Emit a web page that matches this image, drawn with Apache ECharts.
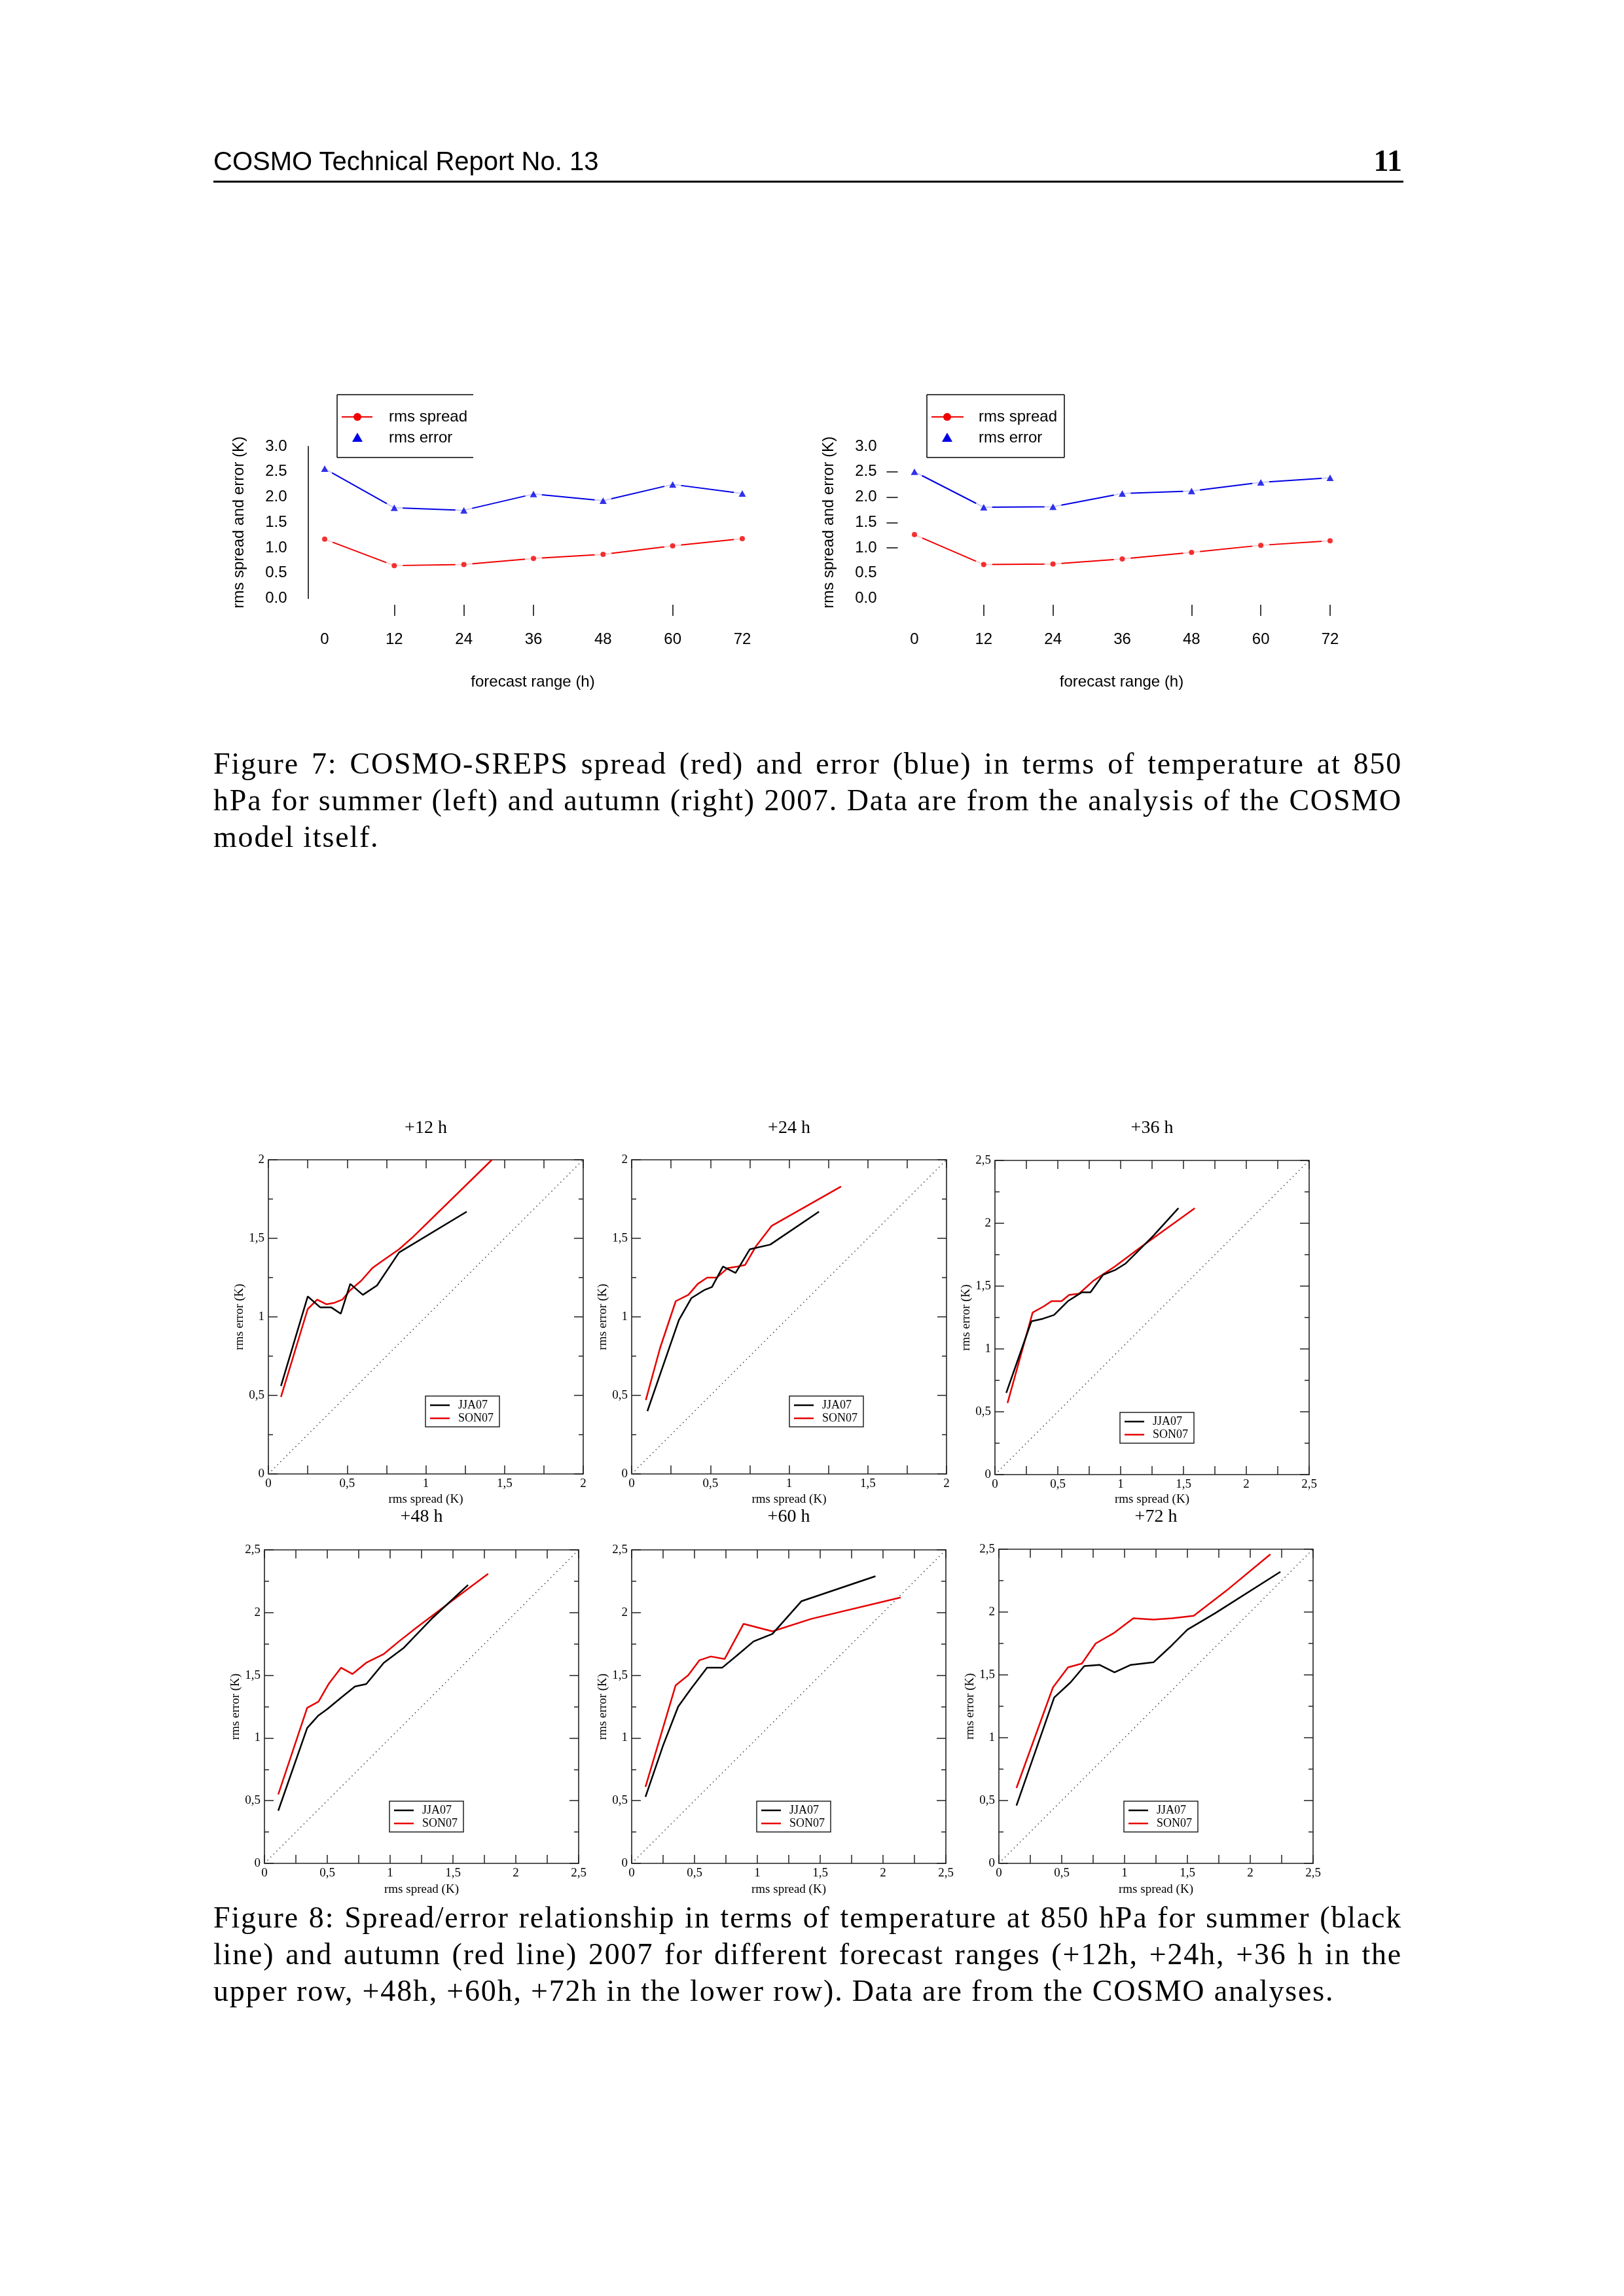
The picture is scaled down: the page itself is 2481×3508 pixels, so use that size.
<!DOCTYPE html>
<html>
<head>
<meta charset="utf-8">
<script src="https://cdn.jsdelivr.net/npm/echarts@6/dist/echarts.min.js"></script>
<style>
html,body{margin:0;padding:0;background:#fff;}
#page{position:relative;width:2481px;height:3508px;background:#fff;overflow:hidden;}
#chart{position:absolute;left:0;top:0;width:2481px;height:3508px;}
.txt{position:absolute;white-space:nowrap;color:#000;}
.cap{position:absolute;left:326px;font-family:'Liberation Serif','Times New Roman',serif;font-size:46px;line-height:56px;letter-spacing:1.8px;white-space:nowrap;color:#000;}
</style>
</head>
<body>
<div id="page">
<div id="chart"></div>
<div class="txt" style="left:326px;top:222px;font-family:'Liberation Sans',Arial,sans-serif;font-size:40px;line-height:48px;">COSMO Technical Report No. 13</div>
<div class="txt" style="right:339px;top:222px;font-family:'Liberation Serif',serif;font-weight:bold;font-size:46px;line-height:48px;">11</div>
<div style="position:absolute;left:326px;top:276px;width:1818px;height:3px;background:#000;"></div>

<div class="cap full" style="top:1139px;">Figure 7: COSMO-SREPS spread (red) and error (blue) in terms of temperature at 850</div>
<div class="cap full" style="top:1195px;">hPa for summer (left) and autumn (right) 2007. Data are from the analysis of the COSMO</div>
<div class="cap" style="top:1251px;">model itself.</div>

<div class="cap full" style="top:2902px;">Figure 8: Spread/error relationship in terms of temperature at 850 hPa for summer (black</div>
<div class="cap full" style="top:2958px;">line) and autumn (red line) 2007 for different forecast ranges (+12h, +24h, +36 h in the</div>
<div class="cap" style="top:3014px;">upper row, +48h, +60h, +72h in the lower row). Data are from the COSMO analyses.</div>
</div>
<script>
// ---------------- Figure 7 data ----------------
const hours = [0, 12, 24, 36, 48, 60, 72];
const spreadSummer = [1.17, 0.65, 0.67, 0.79, 0.87, 1.04, 1.18];
const errorSummer  = [2.56, 1.79, 1.74, 2.06, 1.93, 2.25, 2.07];
const spreadAutumn = [1.26, 0.67, 0.68, 0.78, 0.91, 1.05, 1.14];
const errorAutumn  = [2.50, 1.80, 1.81, 2.07, 2.12, 2.29, 2.38];
const fig7XTicksLeft  = [12, 24, 36, 60];
const fig7XTicksRight = [12, 24, 48, 60, 72];
const fig7YTicksRight = [1.0, 1.5, 2.0, 2.5];

// ---------------- Figure 8 data (rms spread x, rms error y) ----------------
const p12JJAx = [0.08,0.25,0.33,0.40,0.46,0.52,0.60,0.69,0.83,1.26];
const p12JJAy = [0.56,1.13,1.06,1.06,1.02,1.21,1.14,1.20,1.41,1.67];
const p12SONx = [0.08,0.25,0.31,0.37,0.42,0.47,0.52,0.59,0.66,0.73,0.83,0.92,1.42];
const p12SONy = [0.49,1.05,1.11,1.08,1.09,1.11,1.17,1.23,1.31,1.36,1.43,1.51,2.00];

const p24JJAx = [0.10,0.20,0.30,0.38,0.46,0.51,0.58,0.66,0.75,0.88,1.19];
const p24JJAy = [0.40,0.69,0.98,1.12,1.17,1.19,1.32,1.28,1.43,1.46,1.67];
const p24SONx = [0.09,0.18,0.28,0.36,0.42,0.48,0.54,0.61,0.67,0.72,0.79,0.89,1.33];
const p24SONy = [0.47,0.80,1.10,1.14,1.21,1.25,1.25,1.31,1.32,1.33,1.45,1.58,1.83];

const p36JJAx = [0.09,0.29,0.38,0.47,0.58,0.69,0.76,0.86,0.96,1.04,1.12,1.26,1.46];
const p36JJAy = [0.65,1.22,1.24,1.27,1.38,1.45,1.45,1.59,1.63,1.68,1.76,1.90,2.12];
const p36SONx = [0.10,0.30,0.39,0.45,0.53,0.59,0.67,0.78,0.96,1.16,1.59];
const p36SONy = [0.57,1.29,1.34,1.38,1.38,1.43,1.44,1.54,1.66,1.81,2.12];

const p48JJAx = [0.11,0.34,0.43,0.50,0.62,0.72,0.81,0.95,1.11,1.34,1.62];
const p48JJAy = [0.42,1.08,1.18,1.23,1.33,1.41,1.43,1.60,1.72,1.96,2.22];
const p48SONx = [0.11,0.34,0.43,0.51,0.61,0.70,0.81,0.95,1.07,1.21,1.50,1.78];
const p48SONy = [0.55,1.24,1.29,1.43,1.56,1.51,1.60,1.67,1.77,1.88,2.10,2.31];

const p60JJAx = [0.11,0.25,0.37,0.47,0.60,0.72,0.84,0.97,1.12,1.35,1.94];
const p60JJAy = [0.53,0.94,1.25,1.39,1.56,1.56,1.66,1.77,1.83,2.09,2.29];
const p60SONx = [0.11,0.35,0.45,0.54,0.63,0.74,0.89,1.12,1.43,2.14];
const p60SONy = [0.61,1.42,1.50,1.62,1.65,1.63,1.91,1.85,1.95,2.12];

const p72JJAx = [0.14,0.44,0.57,0.68,0.80,0.92,1.05,1.23,1.36,1.50,1.72,2.24];
const p72JJAy = [0.46,1.32,1.44,1.57,1.58,1.52,1.58,1.60,1.72,1.86,1.99,2.32];
const p72SONx = [0.14,0.43,0.55,0.66,0.77,0.91,1.07,1.23,1.38,1.55,1.81,2.16];
const p72SONy = [0.60,1.40,1.56,1.59,1.75,1.83,1.95,1.94,1.95,1.97,2.17,2.46];

const panelTitles = ['+12 h', '+24 h', '+36 h', '+48 h', '+60 h', '+72 h'];
const panelMax = [2, 2, 2.5, 2.5, 2.5, 2.5];
const seriesNames = ['JJA07', 'SON07'];

// ---------------- build ----------------
const SANS = "'Liberation Sans', Arial, sans-serif";
const SERIF = "'Liberation Serif', 'Times New Roman', serif";
const zip = (a, b) => a.map((v, i) => [v, b[i]]);
const comma = v => String(Math.round(v * 100) / 100).replace('.', ',');

const grids = [], xAxes = [], yAxes = [], series = [], graphics = [];

function gtext(text, x, y, font, opts) {
  opts = opts || {};
  graphics.push({
    type: 'text', x: x, y: y, rotation: opts.rotation || 0, z: 100, silent: true,
    style: { text: text, font: font, fill: '#000',
      align: opts.align || 'center', verticalAlign: 'middle',
      textAlign: opts.align || 'center', textVerticalAlign: 'middle' }
  });
}
function gline(x1, y1, x2, y2, color, w) {
  graphics.push({ type: 'line', z: 100, silent: true, shape: { x1, y1, x2, y2 },
    style: { stroke: color, lineWidth: w } });
}

// Figure 7 panels
const fig7 = [
  { grid: { left: 496, top: 682, width: 638, height: 232.5 }, xTicks: fig7XTicksLeft, yLine: true, yTicks: [],
    spread: spreadSummer, error: errorSummer, legend: { l: 515, r: 723, t: 603, b: 699, open: true, lx1: 522, lx2: 569, mx: 546, tx: 594 } },
  { grid: { left: 1397, top: 682, width: 635, height: 232.5 }, xTicks: fig7XTicksRight, yLine: false, yTicks: fig7YTicksRight,
    spread: spreadAutumn, error: errorAutumn, legend: { l: 1416, r: 1626, t: 603, b: 699, open: false, lx1: 1423, lx2: 1472, mx: 1447, tx: 1495 } }
];
const RED7 = '#f00000', BLUE7 = '#0000e6';
fig7.forEach((c, k) => {
  grids.push(c.grid);
  xAxes.push({ gridIndex: k, type: 'value', min: 0, max: 72, interval: 12, offset: 9.5,
    axisLine: { show: false, onZero: false }, splitLine: { show: false },
    axisTick: { show: true, length: 17, customValues: c.xTicks, lineStyle: { color: '#000', width: 1.5 } },
    axisLabel: { margin: 41, color: '#000', fontSize: 24, fontFamily: SANS } });
  yAxes.push({ gridIndex: k, type: 'value', min: 0, max: 3, interval: 0.5, offset: 25.5,
    axisLine: { show: c.yLine, onZero: false, lineStyle: { color: '#000', width: 1.5 } },
    axisTick: { show: c.yTicks.length > 0, length: 17, customValues: c.yTicks, lineStyle: { color: '#000', width: 1.5 } },
    splitLine: { show: false },
    axisLabel: { margin: 32, color: '#000', fontSize: 24, fontFamily: SANS, formatter: v => v.toFixed(1) } });
  const sets = [
    { name: 'rms spread', vals: c.spread, color: RED7, symbol: 'circle', size: 8 },
    { name: 'rms error', vals: c.error, color: BLUE7, symbol: 'triangle', size: [11, 10] }
  ];
  sets.forEach(s => {
    const d = zip(hours, s.vals);
    series.push({ type: 'line', name: s.name, xAxisIndex: k, yAxisIndex: k, data: d, symbol: 'none',
      lineStyle: { color: s.color, width: 2 }, z: 2, silent: true });
    series.push({ type: 'scatter', xAxisIndex: k, yAxisIndex: k, data: d, symbol: 'circle', symbolSize: 26,
      itemStyle: { color: '#fff' }, z: 3, silent: true });
    series.push({ type: 'scatter', name: s.name, xAxisIndex: k, yAxisIndex: k, data: d, symbol: s.symbol, symbolSize: s.size,
      itemStyle: { color: s.color }, z: 4, silent: true });
  });
  // axis titles
  const g = c.grid;
  gtext('forecast range (h)', g.left + g.width / 2 - 1, 1042, '24px ' + SANS);
  gtext('rms spread and error (K)', g.left - 130.5, g.top + g.height / 2, '24px ' + SANS, { rotation: Math.PI / 2 });
  // legend
  const L = c.legend;
  gline(L.l, L.t, L.r, L.t, '#000', 1.5);
  gline(L.l, L.b, L.r, L.b, '#000', 1.5);
  gline(L.l, L.t, L.l, L.b, '#000', 1.5);
  if (!L.open) gline(L.r, L.t, L.r, L.b, '#000', 1.5);
  const r1 = 637, r2 = 669;
  gline(L.lx1, r1, L.lx2, r1, RED7, 2);
  graphics.push({ type: 'circle', z: 101, silent: true, shape: { cx: L.mx, cy: r1, r: 6 }, style: { fill: RED7 } });
  graphics.push({ type: 'polygon', z: 101, silent: true, shape: { points: [[L.mx, r2 - 8], [L.mx - 8, r2 + 6], [L.mx + 8, r2 + 6]] }, style: { fill: BLUE7 } });
  gtext('rms spread', L.tx, r1, '24px ' + SANS, { align: 'left' });
  gtext('rms error', L.tx, r2, '24px ' + SANS, { align: 'left' });
});

// Figure 8 panels
const panelGrids = [
  { left: 410, top: 1772, width: 481, height: 480 },
  { left: 965, top: 1772, width: 481, height: 480 },
  { left: 1520, top: 1773, width: 480, height: 480 },
  { left: 404, top: 2368, width: 480, height: 479 },
  { left: 965, top: 2368, width: 480, height: 479 },
  { left: 1526, top: 2367, width: 480, height: 480 }
];
const legendBoxes = [[650, 2133], [1206, 2133], [1711, 2158], [595, 2752], [1156, 2752], [1717, 2752]];
const titleY = [1724, 1724, 1724, 2318, 2318, 2318];
const xTitleY = [2291, 2291, 2291, 2887, 2887, 2887];
const panelData = [
  [p12JJAx, p12JJAy, p12SONx, p12SONy],
  [p24JJAx, p24JJAy, p24SONx, p24SONy],
  [p36JJAx, p36JJAy, p36SONx, p36SONy],
  [p48JJAx, p48JJAy, p48SONx, p48SONy],
  [p60JJAx, p60JJAy, p60SONx, p60SONy],
  [p72JJAx, p72JJAy, p72SONx, p72SONy]
];
const RED8 = '#e60000', FRAME = '#222';
panelGrids.forEach((g, i) => {
  const gi = 2 + i, ax = 2 + 2 * i, M = panelMax[i];
  grids.push(g);
  const line = { show: true, onZero: false, lineStyle: { color: FRAME, width: 1.6 } };
  const tick = len => ({ show: true, inside: true, length: len, lineStyle: { color: FRAME, width: 1.5 } });
  const lab = { margin: 6, color: '#000', fontSize: 19, fontFamily: SERIF };
  const xfmt = v => (Math.abs(v * 2 - Math.round(v * 2)) < 1e-6 ? comma(v) : '');
  xAxes.push({ gridIndex: gi, type: 'value', position: 'bottom', min: 0, max: M, interval: 0.25,
    axisLine: line, axisTick: tick(13), splitLine: { show: false }, axisLabel: Object.assign({ formatter: xfmt }, lab) });
  xAxes.push({ gridIndex: gi, type: 'value', position: 'top', min: 0, max: M, interval: 0.25,
    axisLine: line, axisTick: tick(13), splitLine: { show: false }, axisLabel: { show: false } });
  const minor = { show: true, splitNumber: 2, length: 7, lineStyle: { color: FRAME, width: 1.5 } };
  yAxes.push({ gridIndex: gi, type: 'value', position: 'left', min: 0, max: M, interval: 0.5,
    axisLine: line, axisTick: tick(14), minorTick: minor, splitLine: { show: false }, minorSplitLine: { show: false },
    axisLabel: Object.assign({ formatter: comma }, lab) });
  yAxes.push({ gridIndex: gi, type: 'value', position: 'right', min: 0, max: M, interval: 0.5,
    axisLine: line, axisTick: tick(14), minorTick: minor, splitLine: { show: false }, minorSplitLine: { show: false },
    axisLabel: { show: false } });
  const d = panelData[i];
  series.push({ type: 'line', xAxisIndex: ax, yAxisIndex: ax, data: [[0, 0], [M, M]], symbol: 'none', silent: true,
    lineStyle: { color: '#444', width: 1.5, type: [1.5, 5] }, z: 1 });
  series.push({ type: 'line', name: seriesNames[1], xAxisIndex: ax, yAxisIndex: ax, data: zip(d[2], d[3]), symbol: 'none', silent: true,
    lineStyle: { color: RED8, width: 2.5 }, z: 2 });
  series.push({ type: 'line', name: seriesNames[0], xAxisIndex: ax, yAxisIndex: ax, data: zip(d[0], d[1]), symbol: 'none', silent: true,
    lineStyle: { color: '#000', width: 2.5 }, z: 3 });
  // titles
  gtext(panelTitles[i], g.left + g.width / 2, titleY[i], '28px ' + SERIF);
  gtext('rms spread (K)', g.left + g.width / 2, xTitleY[i], '19px ' + SERIF);
  gtext('rms error (K)', g.left - 44, g.top + g.height / 2, '19px ' + SERIF, { rotation: Math.PI / 2 });
  // legend
  const [lx, ly] = legendBoxes[i];
  graphics.push({ type: 'rect', z: 100, silent: true, shape: { x: lx, y: ly, width: 113, height: 47 },
    style: { fill: '#fff', stroke: FRAME, lineWidth: 1.5 } });
  gline(lx + 7, ly + 14, lx + 37, ly + 14, '#000', 2.5);
  gline(lx + 7, ly + 34, lx + 37, ly + 34, RED8, 2.5);
  gtext(seriesNames[0], lx + 50, ly + 14, '18px ' + SERIF, { align: 'left' });
  gtext(seriesNames[1], lx + 50, ly + 34, '18px ' + SERIF, { align: 'left' });
});

const chart = echarts.init(document.getElementById('chart'), null, { renderer: 'canvas', width: 2481, height: 3508 });
chart.setOption({
  backgroundColor: '#fff',
  animation: false,
  grid: grids,
  xAxis: xAxes,
  yAxis: yAxes,
  series: series,
  graphic: { elements: graphics }
});

// justify full caption lines to the text width
function justify() {
  const W = 1816;
  document.querySelectorAll('.cap.full').forEach(el => {
    el.style.wordSpacing = '0px';
    const w = el.getBoundingClientRect().width;
    const n = (el.textContent.match(/ /g) || []).length;
    if (n > 0) el.style.wordSpacing = ((W - w) / n) + 'px';
  });
}
justify();
if (document.fonts && document.fonts.ready) document.fonts.ready.then(justify);
</script>
</body>
</html>
